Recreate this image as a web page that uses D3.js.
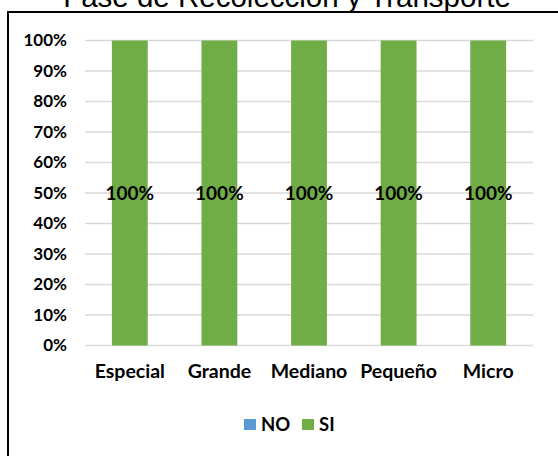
<!DOCTYPE html>
<html><head><meta charset="utf-8">
<script src="https://cdn.jsdelivr.net/npm/d3@7"></script>
<style>body{margin:0;background:#fff}svg{display:block}</style>
</head><body><svg id="c" width="558" height="456"></svg>
<script>
const title = "Fase de Recolección y Transporte";
const categories = ["Especial","Grande","Mediano","Pequeño","Micro"];
const seriesNames = ["NO","SI"];
const noValues = [0,0,0,0,0];
const siValues = [1,1,1,1,1];
const yTicks = [0,0.1,0.2,0.3,0.4,0.5,0.6,0.7,0.8,0.9,1];
const colors = {NO:"#5b9bd5", SI:"#70ad47"};

const svg = d3.select("#c");
const font = "Lato, 'Open Sans', sans-serif";
// border
svg.append("rect").attr("x",8).attr("y",12).attr("width",560).attr("height",460)
  .attr("fill","none").attr("stroke","#000").attr("stroke-width",2);
svg.append("text").attr("x",287).attr("y",6.5).attr("text-anchor","middle")
  .attr("font-family","'Liberation Sans', Arial, sans-serif").attr("font-size",29.5).attr("fill","#000").text(title);

const x = d3.scaleBand().domain(categories).range([85,533]).paddingInner(0.6).paddingOuter(0.3);
const y = d3.scaleLinear().domain([0,1]).range([345.5,40.5]);

const grid = svg.append("g");
grid.selectAll("line").data(yTicks).join("line")
  .attr("x1",85).attr("x2",533).attr("y1",d=>y(d)).attr("y2",d=>y(d))
  .attr("stroke","#d9d9d9").attr("stroke-width",1.5);

const yAxis = svg.append("g").attr("transform","translate(85,0)")
  .call(d3.axisLeft(y).tickValues(yTicks).tickFormat(d3.format(".0%")).tickSize(0).tickPadding(18));
yAxis.select(".domain").remove();
yAxis.selectAll("text").attr("font-family",font).attr("font-weight","bold").attr("font-size",17).attr("fill","#000");

const data = categories.map((c,i)=>({cat:c, NO:noValues[i], SI:siValues[i]}));
const stack = d3.stack().keys(seriesNames)(data);
svg.append("g").selectAll("g").data(stack).join("g").attr("fill",d=>colors[d.key])
  .selectAll("rect").data(d=>d).join("rect")
  .attr("x",d=>x(d.data.cat)).attr("width",x.bandwidth())
  .attr("y",d=>y(d[1])).attr("height",d=>y(d[0])-y(d[1]));

// data labels for SI
const siLayer = stack[1];
svg.append("g").selectAll("text").data(siLayer).join("text")
  .attr("x",d=>x(d.data.cat)+x.bandwidth()/2).attr("y",d=>(y(d[0])+y(d[1]))/2)
  .attr("dy","0.35em").attr("text-anchor","middle")
  .attr("font-family",font).attr("font-weight","bold").attr("font-size",19).attr("fill","#000")
  .text(d=>d3.format(".0%")(d.data.SI));

const xAxis = svg.append("g").attr("transform","translate(0,345.5)")
  .call(d3.axisBottom(x).tickSize(0).tickPadding(19));
xAxis.select(".domain").remove();
xAxis.selectAll("text").attr("font-family",font).attr("font-weight","bold").attr("font-size",19.5).attr("fill","#000");

// legend
const leg = svg.append("g");
const legX = [244, 302];
seriesNames.forEach((s,i)=>{
  leg.append("rect").attr("x",legX[i]).attr("y",419).attr("width",12).attr("height",11).attr("fill",colors[s]);
  leg.append("text").attr("x",legX[i]+17).attr("y",431).attr("font-family",font).attr("font-weight","bold")
    .attr("font-size",18.5).attr("fill","#000").text(s);
});
</script></body></html>
